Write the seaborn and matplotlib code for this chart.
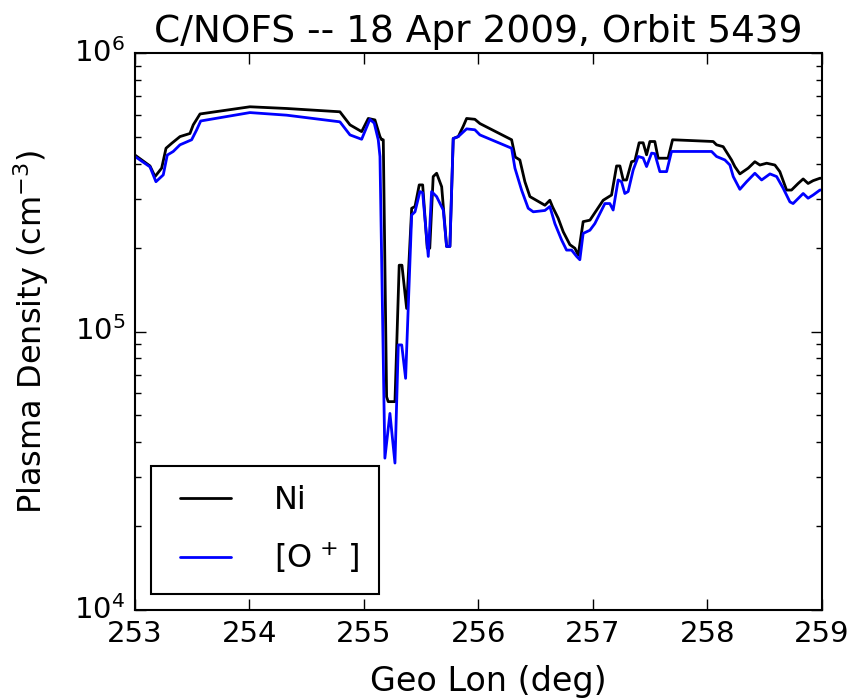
import numpy as np
import pandas as pd
import matplotlib
matplotlib.use("Agg")
import matplotlib.pyplot as plt
import seaborn as sns
from matplotlib.lines import Line2D
from matplotlib.ticker import ScalarFormatter

# ---- data ----
lon_ni = [253.000, 253.131, 253.175, 253.233, 253.271, 253.321, 253.393, 253.480, 253.509, 253.568,
          254.004, 254.325, 254.790, 254.878, 254.980, 255.038, 255.096, 255.140, 255.155, 255.169,
          255.198, 255.212, 255.271, 255.308, 255.332, 255.373, 255.417, 255.446, 255.483, 255.513,
          255.553, 255.575, 255.605, 255.635, 255.679, 255.722, 255.751, 255.780, 255.824, 255.867,
          255.897, 255.969, 256.013, 256.290, 256.322, 256.362, 256.406, 256.450, 256.581, 256.624,
          256.648, 256.697, 256.741, 256.799, 256.843, 256.872, 256.915, 256.974, 257.090, 257.163,
          257.207, 257.236, 257.265, 257.294, 257.338, 257.367, 257.404, 257.439, 257.469, 257.498,
          257.541, 257.570, 257.657, 257.696, 258.051, 258.080, 258.138, 258.211, 258.240, 258.284,
          258.357, 258.415, 258.459, 258.518, 258.590, 258.633, 258.692, 258.735, 258.793, 258.837,
          258.880, 258.924, 258.983, 259.000]
ni = [430, 393, 360, 386, 455, 474, 501, 514, 552, 604,
      641, 632, 615, 552, 522, 582, 575, 501, 488, 488,
      58.3, 56, 56, 173, 173, 121, 277, 281, 336, 336,
      199, 199, 360, 370, 331, 202, 202, 493, 501, 545,
      582, 578, 558, 488, 423, 413, 345, 305, 284, 296,
      280, 255, 228, 205, 199, 188, 248, 251, 296, 309,
      393, 393, 350, 350, 407, 410, 476, 476, 431, 481,
      481, 419, 419, 488, 481, 468, 461, 413, 391, 368,
      386, 407, 396, 402, 396, 375, 322, 322, 340, 353,
      340, 348, 355, 355]

lon_o = [253.000, 253.131, 253.183, 253.247, 253.282, 253.334, 253.393, 253.495, 253.539, 253.574,
         254.004, 254.325, 254.790, 254.878, 254.980, 255.052, 255.090, 255.125, 255.140, 255.183,
         255.227, 255.271, 255.300, 255.330, 255.364, 255.417, 255.446, 255.489, 255.513, 255.562,
         255.591, 255.635, 255.693, 255.722, 255.751, 255.780, 255.824, 255.897, 255.969, 256.013,
         256.290, 256.319, 256.377, 256.435, 256.479, 256.581, 256.624, 256.668, 256.727, 256.770,
         256.814, 256.858, 256.886, 256.915, 256.974, 257.017, 257.105, 257.148, 257.177, 257.221,
         257.250, 257.279, 257.308, 257.352, 257.396, 257.439, 257.469, 257.513, 257.541, 257.585,
         257.644, 257.687, 258.037, 258.080, 258.153, 258.197, 258.226, 258.284, 258.343, 258.415,
         258.474, 258.547, 258.605, 258.662, 258.721, 258.749, 258.837, 258.880, 258.924, 258.983,
         259.000]
o_plus = [425, 390, 345, 365, 430, 443, 468, 488, 530, 570,
          611, 598, 566, 508, 490, 578, 560, 488, 425, 35.1,
          50.8, 33.7, 89.5, 89.5, 67.9, 262, 269, 318, 315, 186,
          318, 305, 273, 202, 202, 493, 501, 534, 530, 508,
          455, 386, 322, 277, 269, 272, 281, 244, 213, 196,
          196, 186, 181, 225, 231, 244, 288, 288, 273, 350,
          345, 313, 318, 380, 425, 420, 391, 437, 435, 375,
          375, 443, 443, 425, 413, 396, 360, 324, 345, 370,
          350, 368, 360, 327, 292, 288, 313, 301, 309, 322,
          322]

series_names = ["Ni", r"[O$^{\,+\,}$]"]
series_colors = ["k", "b"]
title = "C/NOFS -- 18 Apr 2009, Orbit 5439"
xlabel = "Geo Lon (deg)"
ylabel = "Plasma Density (cm$^{-3}$)"
xticks = [253, 254, 255, 256, 257, 258, 259]

df = pd.concat([
    pd.DataFrame({"lon": lon_ni, "dens": np.array(ni) * 1e3, "series": series_names[0]}),
    pd.DataFrame({"lon": lon_o, "dens": np.array(o_plus) * 1e3, "series": series_names[1]}),
], ignore_index=True)

# ---- style ----
plt.style.use("classic")
sns.set_style("ticks")
plt.rcParams["font.family"] = ["DejaVu Sans"]
plt.rcParams["mathtext.fontset"] = "dejavusans"
plt.rcParams["text.color"] = "black"
plt.rcParams["axes.labelcolor"] = "black"
plt.rcParams["xtick.color"] = "black"
plt.rcParams["ytick.color"] = "black"

fig = plt.figure(figsize=(8.49, 6.99), dpi=100, facecolor="white")
ax = fig.add_axes([0.159, 0.1273, 0.968 - 0.159, 0.9242 - 0.1273])
ax.set_facecolor("white")

sns.lineplot(data=df, x="lon", y="dens", hue="series", palette=dict(zip(series_names, series_colors)),
             estimator=None, sort=False, linewidth=2, ax=ax, legend=False)

ax.set_yscale("log")
ax.set_xlim(253, 259)
ax.set_ylim(1e4, 1e6)
ax.set_xticks(xticks)
ax.xaxis.set_major_formatter(ScalarFormatter(useOffset=False))

for sp in ax.spines.values():
    sp.set_linewidth(1.5)
    sp.set_color("black")
    sp.set_visible(True)

ax.tick_params(which="both", direction="in", top=True, right=True, labelsize=21, colors="black", width=1)
ax.tick_params(which="major", length=8, pad=7)
ax.tick_params(which="minor", length=4)
ax.tick_params(axis="x", which="minor", bottom=False, top=False)

ax.set_title(title, fontsize=27, pad=8, color="black")
ax.set_xlabel(xlabel, fontsize=24, color="black")
ax.xaxis.set_label_coords(0.514, -0.099)
ax.xaxis.label.set_verticalalignment("top")
ax.set_ylabel(ylabel, fontsize=23, labelpad=17, color="black")
ax.grid(False)

handles = [Line2D([], [], color=c, lw=2) for c in series_colors]
leg = ax.legend(handles, series_names, loc="lower left", fontsize=23, frameon=True, fancybox=False,
                shadow=False, framealpha=1, edgecolor="black", handlelength=2.2, handletextpad=1.05,
                borderpad=0.6, labelspacing=0.72, borderaxespad=0.5)
leg.get_frame().set_linewidth(1.5)
for t in leg.get_texts():
    t.set_color("black")

fig.savefig("out.png", dpi=100, facecolor="white")
